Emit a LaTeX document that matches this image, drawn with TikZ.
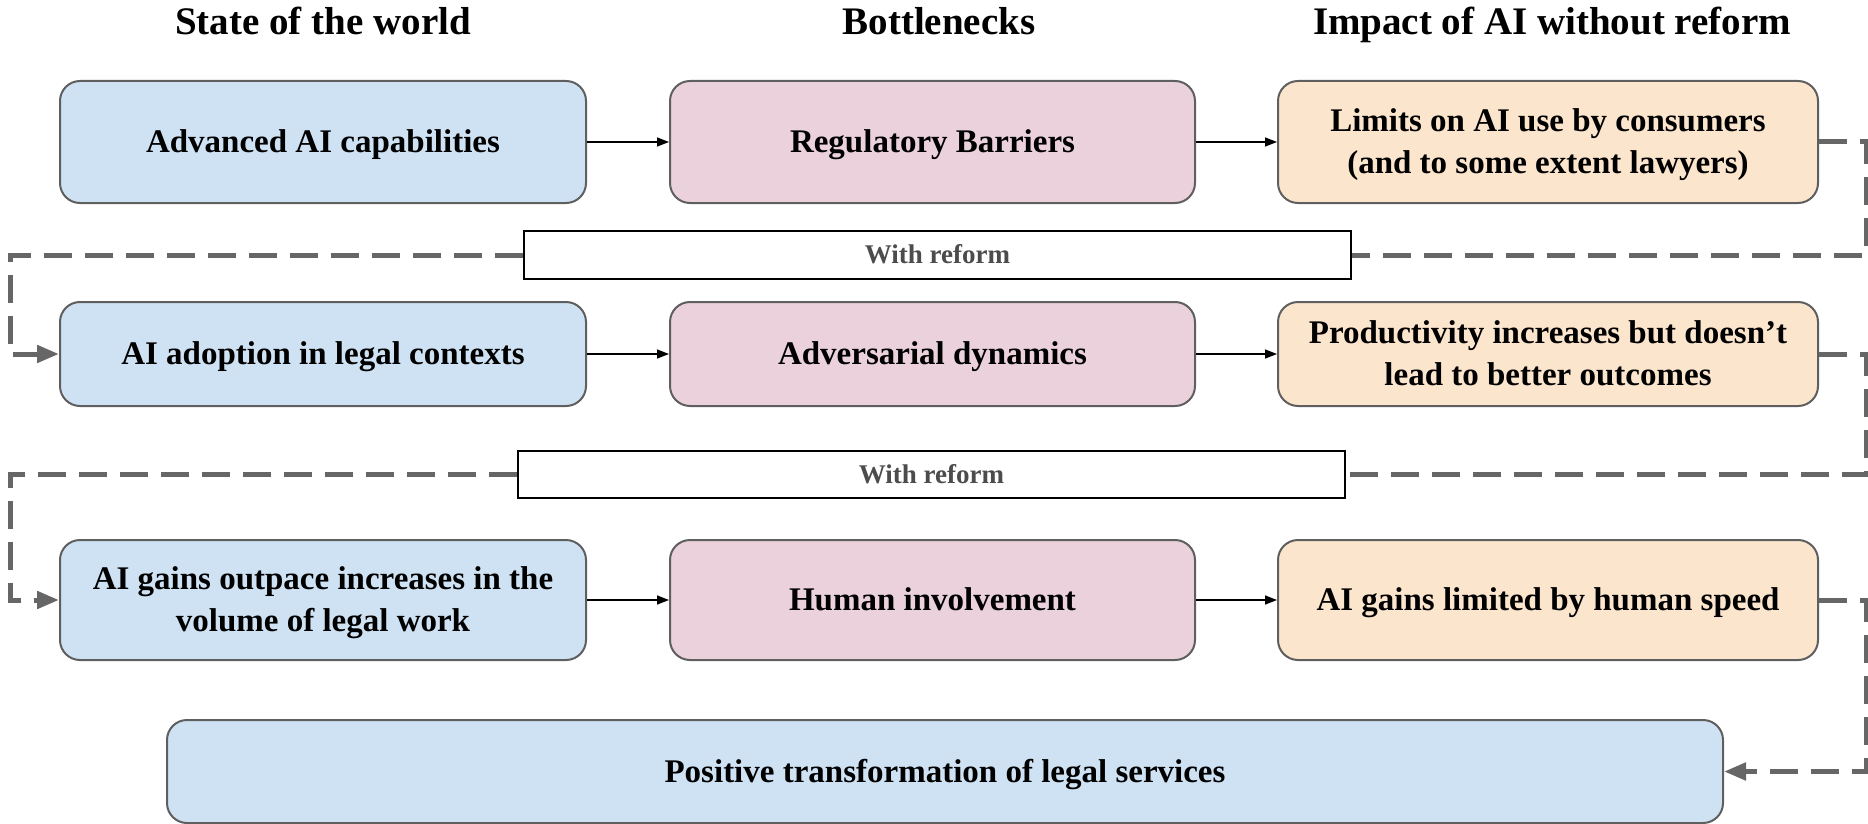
\documentclass[tikz,border=0pt]{standalone}
\usepackage{fontspec}
\setmainfont{Liberation Serif}
\usetikzlibrary{arrows.meta}

\definecolor{stateblue}{HTML}{CFE2F3}
\definecolor{neckpink}{HTML}{EAD1DC}
\definecolor{impactorange}{HTML}{FCE5CD}
\definecolor{rimgray}{HTML}{5F5F5F}
\definecolor{loopgray}{HTML}{666666}

\begin{document}
\begin{tikzpicture}[x=0.5pt,y=-0.5pt,
    box/.style={draw=rimgray,line width=1pt,rounded corners=10pt,align=center,
      font=\fontsize{16.5}{21}\selectfont\bfseries,inner sep=0pt,
      text height=10.9pt,text depth=0pt},
    twolines/.style={text height=31.9pt},
    state/.style={box,fill=stateblue,minimum width=263pt},
    neck/.style={box,fill=neckpink,minimum width=262.5pt},
    impact/.style={box,fill=impactorange,minimum width=270pt},
    reform/.style={draw=black,line width=1pt,fill=white,inner sep=0pt,
      font=\fontsize{13.5}{15}\selectfont\bfseries,text=black!70,
      text height=8.9pt,text depth=0pt},
    title/.style={font=\fontsize{19.5}{22}\selectfont\bfseries,anchor=base},
    flow/.style={-{Triangle[length=6pt,width=4.5pt]},line width=0.75pt},
    loop/.style={draw=loopgray,line width=2.5pt,dash pattern=on 14pt off 6.5pt},
    looptip/.style={loop,-{Triangle[length=11pt,width=8.5pt]}}]
  \useasboundingbox (0,0) rectangle (1868,824);
  % column heads
  \path (323,35) node[title] (hstate) {State of the world}
        (939,35) node[title] (hneck) {Bottlenecks}
        (1552,35) node[title] (himpact) {Impact of AI without reform};
  % three rows of boxes
  \node[state,minimum height=61pt] (s1) at (323,142) {Advanced AI capabilities};
  \node[neck,minimum height=61pt] (n1) at (932.5,142) {Regulatory Barriers};
  \node[impact,twolines,minimum height=61pt] (i1) at (1548,142)
    {Limits on AI use by consumers\\(and to some extent lawyers)};
  \node[state,minimum height=52pt] (s2) at (323,354) {AI adoption in legal contexts};
  \node[neck,minimum height=52pt] (n2) at (932.5,354) {Adversarial dynamics};
  \node[impact,twolines,minimum height=52pt] (i2) at (1548,354)
    {Productivity increases but doesn’t\\lead to better outcomes};
  \node[state,twolines,minimum height=60pt] (s3) at (323,600)
    {AI gains outpace increases in the\\volume of legal work};
  \node[neck,minimum height=60pt] (n3) at (932.5,600) {Human involvement};
  \node[impact,minimum height=60pt] (i3) at (1548,600) {AI gains limited by human speed};
  \node[state,minimum width=778pt,minimum height=51.5pt] (goal) at (945,771.5)
    {Positive transformation of legal services};
  % reform labels
  \node[reform,minimum width=413.5pt,minimum height=24pt] (r1) at (937.5,255) {With reform};
  \node[reform,minimum width=413.5pt,minimum height=23.5pt] (r2) at (931.5,474.5) {With reform};
  % solid arrows along each row
  \foreach \k in {1,2,3} {
    \draw[flow] (s\k) -- (n\k);
    \draw[flow] (n\k) -- (i\k);
  }
  % dashed loops back to the next row
  \draw[loop] (i1.east) -- (1866,142) -- (1866,255) -- (r1.east);
  \draw[looptip] (r1.west) -- (10,255) -- (10,354) -- (s2.west);
  \draw[loop] (i2.east) -- (1866,354) -- (1866,474.5) -- (r2.east);
  \draw[looptip] (r2.west) -- (10,474.5) -- (10,600) -- (s3.west);
  \draw[looptip] (i3.east) -- (1866,600) -- (1866,771.5) -- (goal.east);
\end{tikzpicture}
\end{document}
